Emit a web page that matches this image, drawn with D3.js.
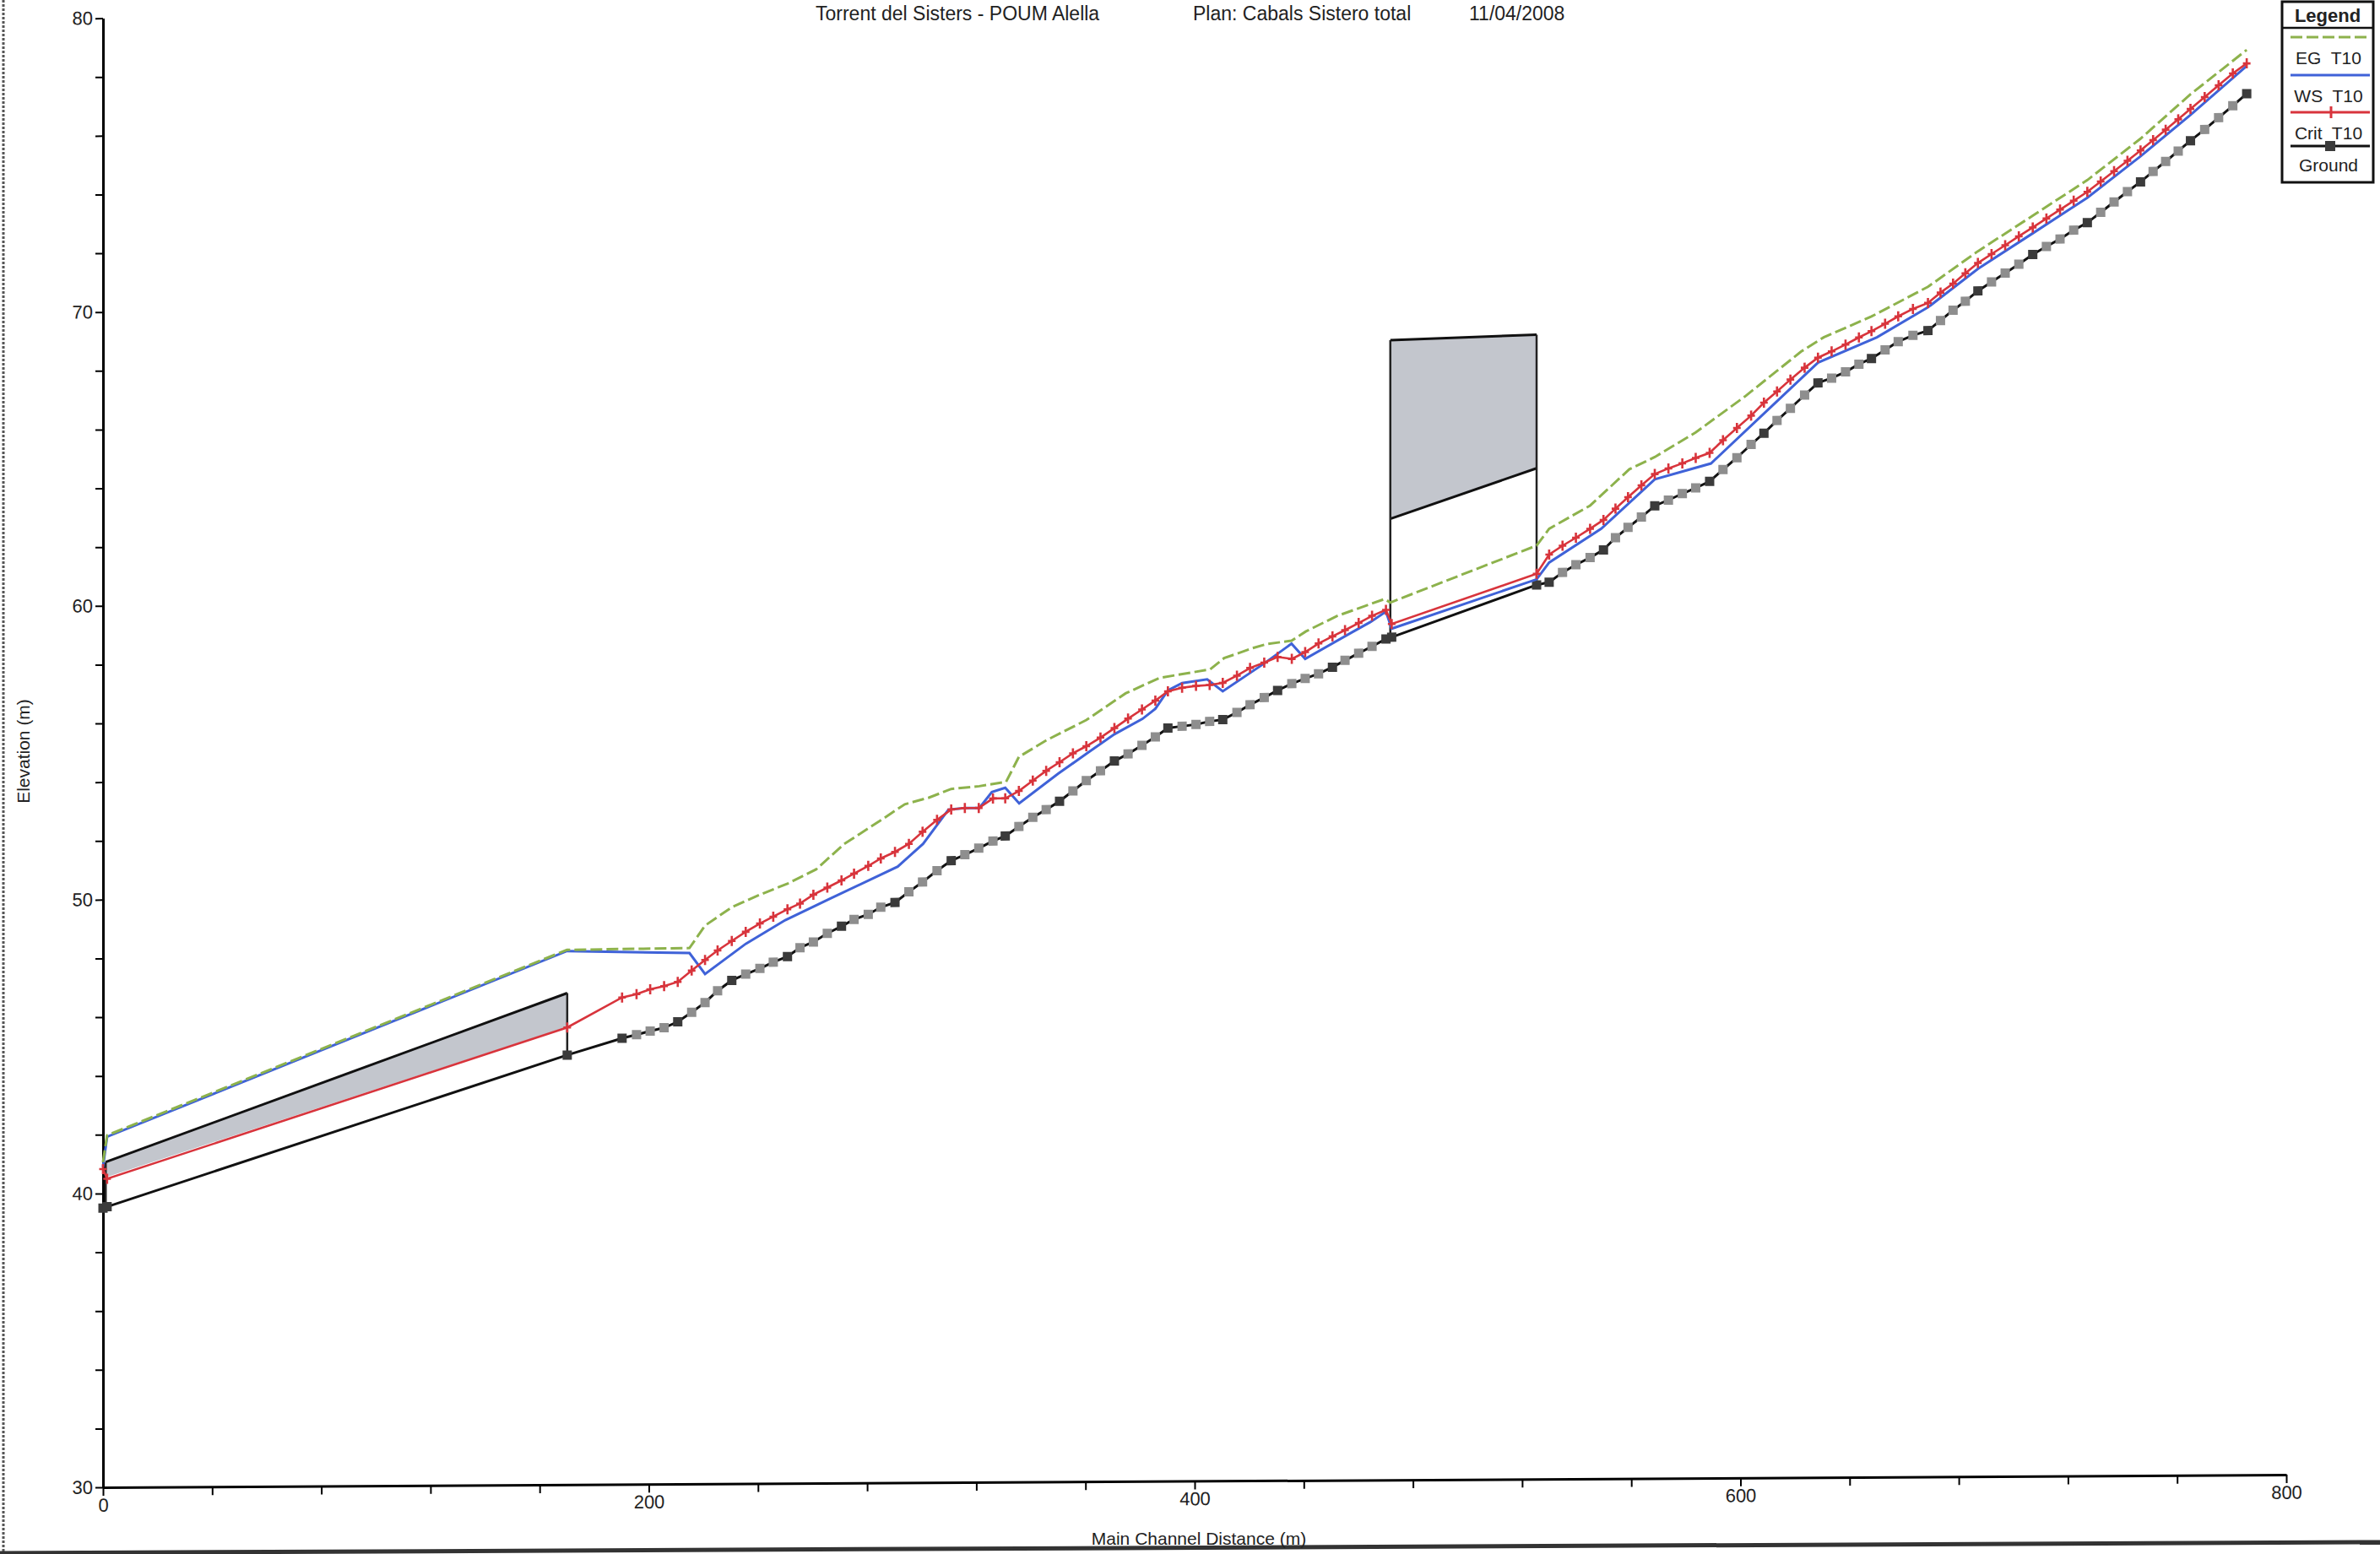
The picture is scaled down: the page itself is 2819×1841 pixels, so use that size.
<!DOCTYPE html>
<html>
<head>
<meta charset="utf-8">
<script src="https://cdn.jsdelivr.net/npm/d3@7"></script>
<style>
  body { margin: 0; background: #fff; }
  svg { display: block; font-family: "Liberation Sans", Arial, sans-serif; }
</style>
</head>
<body>
<svg id="chart" width="2819" height="1841"></svg>
<script>
// Cross sections along the main channel (m) and their profile values (m)
const stations = [0, 1.5, 170.1, 190.2, 195.5, 200.5, 205.6, 210.6, 215.7, 220.6, 225.2, 230.4, 235.5, 240.7, 245.6, 250.8,
  255.4, 260.3, 265.4, 270.6, 275.2, 280.4, 285.0, 290.2, 295.3, 300.3, 305.6, 310.8, 315.8, 320.9, 326.1, 330.6,
  335.6, 340.7, 345.6, 350.5, 355.4, 360.3, 365.5, 370.6, 375.6, 380.7, 385.6, 390.2, 395.4, 400.5, 405.5, 410.3,
  415.5, 420.3, 425.5, 430.4, 435.6, 440.5, 445.4, 450.5, 455.1, 460.1, 465.0, 470.1, 472.2, 525.3, 529.9, 534.8,
  539.7, 544.9, 549.8, 554.2, 558.8, 563.7, 568.6, 573.6, 578.7, 583.6, 588.7, 593.6, 598.7, 603.9, 608.6, 613.4,
  618.3, 623.5, 628.4, 633.4, 638.5, 643.4, 648.0, 653.0, 657.8, 663.2, 668.7, 673.3, 677.9, 682.4, 687.0, 692.0,
  697.0, 702.0, 707.1, 712.1, 717.1, 722.1, 727.1, 732.0, 736.9, 741.8, 746.6, 751.2, 755.8, 760.4, 764.9, 770.1,
  775.2, 780.4, 785.5];

const groundElev = [39.50, 39.55, 44.62, 45.18, 45.30, 45.42, 45.53, 45.73, 46.05, 46.38, 46.78, 47.13, 47.34, 47.53, 47.74, 47.93,
  48.23, 48.42, 48.71, 48.95, 49.18, 49.35, 49.59, 49.75, 50.11, 50.44, 50.82, 51.16, 51.36, 51.58, 51.82, 51.99,
  52.31, 52.62, 52.88, 53.16, 53.51, 53.86, 54.19, 54.52, 54.76, 55.05, 55.33, 55.63, 55.69, 55.75, 55.85, 55.91,
  56.15, 56.41, 56.65, 56.89, 57.12, 57.29, 57.45, 57.67, 57.90, 58.14, 58.37, 58.62, 58.68, 60.43, 60.52, 60.85,
  61.11, 61.35, 61.61, 62.02, 62.37, 62.72, 63.10, 63.29, 63.51, 63.70, 63.92, 64.32, 64.72, 65.17, 65.55, 65.98,
  66.39, 66.84, 67.25, 67.41, 67.62, 67.88, 68.07, 68.36, 68.64, 68.85, 69.01, 69.35, 69.70, 70.00, 70.35, 70.65,
  70.95, 71.25, 71.58, 71.85, 72.10, 72.40, 72.65, 73.00, 73.35, 73.70, 74.03, 74.38, 74.72, 75.07, 75.42, 75.80,
  76.20, 76.60, 77.01];

const critElev = [40.83, 40.50, 45.56, 46.57, 46.68, 46.84, 46.95, 47.09, 47.47, 47.83, 48.15, 48.47, 48.78, 49.06, 49.29, 49.54,
  49.73, 50.03, 50.27, 50.51, 50.74, 51.00, 51.25, 51.47, 51.74, 52.15, 52.55, 52.90, 52.95, 52.95, 53.27, 53.27,
  53.52, 53.87, 54.20, 54.49, 54.79, 55.03, 55.32, 55.64, 55.96, 56.27, 56.57, 56.88, 57.00, 57.06, 57.09, 57.16,
  57.40, 57.66, 57.84, 58.03, 57.96, 58.19, 58.48, 58.72, 58.93, 59.17, 59.41, 59.61, 59.13, 60.81, 61.46, 61.76,
  62.03, 62.33, 62.63, 63.01, 63.40, 63.80, 64.18, 64.37, 64.54, 64.72, 64.89, 65.32, 65.73, 66.15, 66.59, 66.97,
  67.37, 67.77, 68.11, 68.32, 68.55, 68.79, 69.00, 69.25, 69.50, 69.75, 69.95, 70.30, 70.60, 70.95, 71.30, 71.60,
  71.90, 72.20, 72.50, 72.80, 73.10, 73.40, 73.70, 74.05, 74.40, 74.75, 75.10, 75.45, 75.80, 76.15, 76.50, 76.90,
  77.30, 77.70, 78.04];

// 1 = interpolated cross section (light marker), 0 = surveyed section
const interpolated = [0, 0, 0, 0, 1, 1, 1, 0, 1, 1, 1, 0, 1, 1, 1, 0,
  1, 1, 1, 0, 1, 1, 1, 0, 1, 1, 1, 0, 1, 1, 1, 0,
  1, 1, 1, 0, 1, 1, 1, 0, 1, 1, 1, 0, 1, 1, 1, 0,
  1, 1, 1, 0, 1, 1, 1, 0, 1, 1, 1, 0, 0, 0, 0, 1,
  1, 1, 0, 1, 1, 1, 0, 1, 1, 1, 0, 1, 1, 1, 0, 1,
  1, 1, 0, 1, 1, 1, 0, 1, 1, 1, 0, 1, 1, 1, 0, 1,
  1, 1, 0, 1, 1, 1, 0, 1, 1, 1, 0, 1, 1, 1, 0, 1,
  1, 1, 0];

// Water surface profile (T10)
const wsStation = [0, 1.5, 170, 214.9, 220.6, 235.5, 250, 266.4, 291.2, 300.5, 309.8, 315.9, 321.1, 325.7, 330.6, 335.7,
  350, 360.3, 370.6, 380.9, 385.6, 390.2, 395.4, 404.6, 410.3, 425.3, 435.5, 440.5, 457.2, 464.4, 470.1, 472.2,
  525.3, 529.9, 549.0, 568.6, 589.2, 628.4, 650, 668.7, 687.0, 707.1, 727.1, 746.6, 764.9, 785.5];
const wsElev = [40.90, 41.93, 48.16, 48.07, 47.35, 48.37, 49.17, 49.89, 50.97, 51.74, 52.90, 52.95, 52.95, 53.49, 53.63, 53.10,
  54.10, 54.77, 55.43, 55.95, 56.29, 56.91, 57.16, 57.28, 56.87, 57.80, 58.48, 57.96, 58.83, 59.20, 59.55, 58.97,
  60.62, 61.19, 62.33, 64.00, 64.53, 67.94, 68.79, 69.80, 71.10, 72.30, 73.50, 74.90, 76.30, 77.95];

// Energy grade line (T10)
const egStation = [0, 1.5, 170, 214.9, 220.6, 230.4, 240.7, 251, 261.3, 271.6, 285, 293.8, 302.6, 310.8, 321.1, 330.9,
  335.6, 345.9, 360.3, 374.7, 387.1, 405.7, 410.8, 421.1, 426.3, 435.5, 440.7, 452.1, 469.6, 471.7, 525.3, 529.9,
  544.9, 559.3, 568.6, 583.6, 601.6, 622.2, 630.5, 648, 668.7, 687, 707.1, 727.1, 746.6, 764.9, 785.5];
const egElev = [41.07, 41.98, 48.20, 48.24, 49.00, 49.62, 50.04, 50.42, 50.89, 51.75, 52.55, 53.09, 53.31, 53.60, 53.69, 53.83,
  54.68, 55.25, 55.92, 56.82, 57.34, 57.62, 58.00, 58.33, 58.47, 58.58, 58.89, 59.41, 59.98, 59.86, 61.77, 62.34,
  63.12, 64.35, 64.76, 65.59, 66.80, 68.32, 68.80, 69.50, 70.50, 71.70, 72.90, 74.10, 75.50, 77.00, 78.50];

// Culvert crossings: stations of both faces, road deck, crown (low chord) and invert
const culvertLeft = [1.0, 471.7];
const culvertRight = [170.1, 525.3];
const deckLeft = [41.07, 68.79];
const deckRight = [46.73, 68.95];
const chordLeft = [40.55, 62.71];
const chordRight = [45.58, 64.40];
const invertLeft = [39.50, 58.68];
const invertRight = [44.62, 60.43];

const xTickValues = d3.range(0, 801, 40);
const xTickLabels = [0, 200, 400, 600, 800];
const yTickValues = d3.range(30, 81, 2);
const yTickLabels = [30, 40, 50, 60, 70, 80];

const titleParts = ["Torrent del Sisters - POUM Alella", "Plan: Cabals Sistero total", "11/04/2008"];
const legendLabels = ["EG  T10", "WS  T10", "Crit  T10", "Ground"];

const colors = { eg: "#8db24c", ws: "#3f62d8", crit: "#d8343c", ground: "#111", surveyed: "#3b3b3b", interp: "#8e8e8e", deck: "#c3c6cd" };

const svg = d3.select("#chart");
const x = d3.scaleLinear().domain([0, 800]).range([122, 2708]);
const y = d3.scaleLinear().domain([30, 80]).range([1762, 21.6]);

// sheet edges
svg.append("line").attr("x1", 4).attr("x2", 4).attr("y1", 0).attr("y2", 1841)
  .attr("stroke", "#555").attr("stroke-width", 3).attr("stroke-dasharray", "3,2");
svg.append("line").attr("x1", 0).attr("y1", 1840).attr("x2", 2819).attr("y2", 1827)
  .attr("stroke", "#333").attr("stroke-width", 5);

// title (top of sheet)
const titleX = [966, 1413, 1740];
svg.selectAll("text.title").data(titleParts).join("text").attr("class", "title")
  .attr("x", (d, i) => titleX[i]).attr("y", 24)
  .attr("font-size", 23).attr("fill", "#222").text(d => d);

// the plot is slightly sheared on the sheet
const g = svg.append("g").attr("transform", "translate(122,0) skewY(-0.332) translate(-122,0)");

// axes
const yAxis = d3.axisLeft(y).tickValues(yTickValues).tickSize(9).tickSizeOuter(0)
  .tickFormat(d => yTickLabels.includes(d) ? d : "");
const gy = g.append("g").attr("transform", `translate(${x(0)},0)`).call(yAxis);
const xAxis = d3.axisBottom(x).tickValues(xTickValues).tickSize(10).tickSizeOuter(0)
  .tickFormat(d => xTickLabels.includes(d) ? d : "");
const gx = g.append("g").attr("transform", `translate(0,${y(30)})`).call(xAxis);
[gx, gy].forEach(a => {
  a.select(".domain").attr("stroke", "#000").attr("stroke-width", 3);
  a.selectAll(".tick line").attr("stroke", "#000").attr("stroke-width", 2);
  a.selectAll(".tick text").attr("font-size", 22).attr("fill", "#222").attr("font-family", "Liberation Sans, Arial, sans-serif");
});

// culverts
const culverts = culvertLeft.map((d, i) => ({
  x0: culvertLeft[i], x1: culvertRight[i], top0: deckLeft[i], top1: deckRight[i],
  low0: chordLeft[i], low1: chordRight[i], inv0: invertLeft[i], inv1: invertRight[i], i
}));
g.selectAll("path.deck").data(culverts).join("path").attr("class", "deck")
  .attr("d", c => `M${x(c.x0)},${y(c.top0)}L${x(c.x1)},${y(c.top1)}L${x(c.x1)},${y(c.low1)}L${x(c.x0)},${y(c.low0)}Z`)
  .attr("fill", colors.deck);
g.selectAll("path.deckTop").data(culverts).join("path").attr("class", "deckTop")
  .attr("d", c => `M${x(c.x0)},${y(c.top0)}L${x(c.x1)},${y(c.top1)}`)
  .attr("stroke", "#111").attr("stroke-width", 3).attr("fill", "none");
g.selectAll("path.chord").data(culverts.filter(c => c.i === 1)).join("path").attr("class", "chord")
  .attr("d", c => `M${x(c.x0)},${y(c.low0)}L${x(c.x1)},${y(c.low1)}`)
  .attr("stroke", "#111").attr("stroke-width", 3).attr("fill", "none");
culverts.forEach(c => {
  [[c.x0, c.top0, c.inv0], [c.x1, c.top1, c.inv1]].forEach(w => {
    g.append("line").attr("x1", x(w[0])).attr("x2", x(w[0])).attr("y1", y(w[1])).attr("y2", y(w[2]))
      .attr("stroke", "#222").attr("stroke-width", 2.5);
  });
});

const line = d3.line().x(d => x(d[0])).y(d => y(d[1]));

// ground
const groundPts = stations.map((s, i) => [s, groundElev[i], interpolated[i]]);
g.append("path").attr("d", line(groundPts)).attr("fill", "none").attr("stroke", colors.ground).attr("stroke-width", 3);
g.selectAll("rect.gm").data(groundPts).join("rect").attr("class", "gm")
  .attr("x", d => x(d[0]) - 5.5).attr("y", d => y(d[1]) - 5.5).attr("width", 11).attr("height", 11)
  .attr("fill", d => d[2] ? colors.interp : colors.surveyed);

// water surface
const wsPts = wsStation.map((s, i) => [s, wsElev[i]]);
g.append("path").attr("d", line(wsPts)).attr("fill", "none").attr("stroke", colors.ws).attr("stroke-width", 3);

// critical depth
const critPts = stations.map((s, i) => [s, critElev[i]]);
g.append("path").attr("d", line(critPts)).attr("fill", "none").attr("stroke", colors.crit).attr("stroke-width", 2.6);
g.selectAll("path.cm").data(critPts).join("path").attr("class", "cm")
  .attr("d", d => `M${x(d[0])},${y(d[1]) - 6}v12M${x(d[0]) - 4.5},${y(d[1])}h9`)
  .attr("stroke", colors.crit).attr("stroke-width", 2.6);

// energy grade
const egPts = egStation.map((s, i) => [s, egElev[i]]);
g.append("path").attr("d", line(egPts)).attr("fill", "none").attr("stroke", colors.eg)
  .attr("stroke-width", 3).attr("stroke-dasharray", "14,5");

// axis titles
svg.append("text").attr("x", 1420).attr("y", 1830).attr("text-anchor", "middle")
  .attr("font-size", 21).attr("fill", "#222").text("Main Channel Distance (m)");
svg.append("text").attr("transform", "translate(35,890) rotate(-90)").attr("text-anchor", "middle")
  .attr("font-size", 21).attr("fill", "#222").text("Elevation (m)");

// legend
const lg = svg.append("g");
lg.append("rect").attr("x", 2703).attr("y", 2).attr("width", 108).attr("height", 214)
  .attr("fill", "#fff").attr("stroke", "#111").attr("stroke-width", 3);
lg.append("line").attr("x1", 2703).attr("x2", 2811).attr("y1", 33).attr("y2", 33).attr("stroke", "#111").attr("stroke-width", 2.5);
lg.append("text").attr("x", 2757).attr("y", 26).attr("text-anchor", "middle").attr("font-size", 22)
  .attr("font-weight", "bold").attr("fill", "#222").text("Legend");
const lineY = [44, 89, 133, 173];
const textY = [76, 121, 165, 203];
legendLabels.forEach((t, i) => {
  const ln = lg.append("line").attr("x1", 2713).attr("x2", 2807).attr("y1", lineY[i]).attr("y2", lineY[i]).attr("stroke-width", 3);
  if (i === 0) ln.attr("stroke", colors.eg).attr("stroke-dasharray", "14,5");
  if (i === 1) ln.attr("stroke", colors.ws);
  if (i === 2) {
    ln.attr("stroke", colors.crit);
    lg.append("path").attr("d", `M2761,${lineY[i] - 7}v14`).attr("stroke", colors.crit).attr("stroke-width", 3);
  }
  if (i === 3) {
    ln.attr("stroke", "#111");
    lg.append("rect").attr("x", 2754).attr("y", lineY[i] - 6).attr("width", 12).attr("height", 12).attr("fill", colors.surveyed);
  }
  lg.append("text").attr("x", 2758).attr("y", textY[i]).attr("text-anchor", "middle").attr("font-size", 21)
    .attr("fill", "#222").attr("xml:space", "preserve").style("white-space", "pre").text(t);
});
</script>
</body>
</html>
